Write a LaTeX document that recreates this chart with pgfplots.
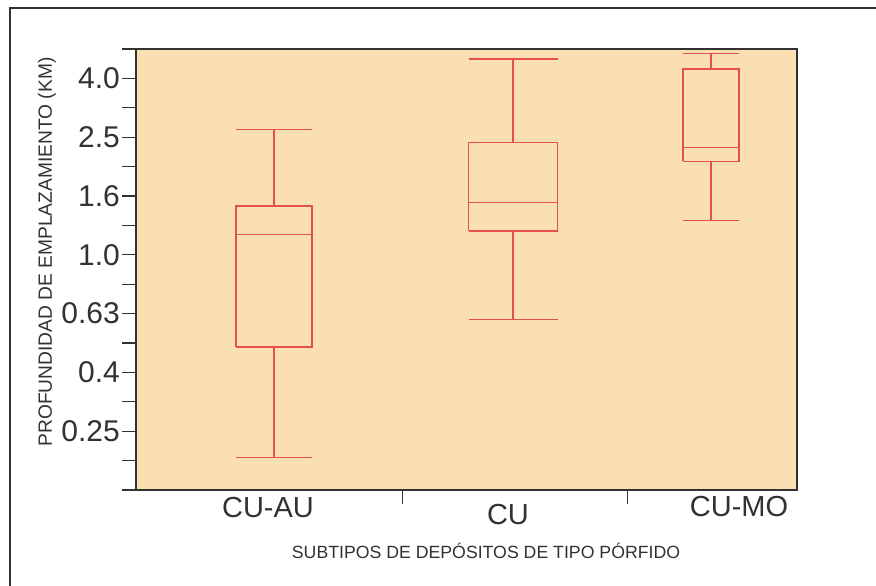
\documentclass[border=0pt]{standalone}
\usepackage{fontspec}
\setmainfont{Liberation Sans}
\usepackage{pgfplots}
\pgfplotsset{compat=1.18}
\definecolor{tanbg}{RGB}{250,224,176}
\definecolor{boxred}{RGB}{228,80,80}
\definecolor{ink}{RGB}{50,50,50}
% box: position, half width, lower whisker, Q1, median, Q3, upper whisker
\newcommand{\bx}[7]{%
  \addplot[boxred, line width=1.4pt] coordinates {(#1-#2,#4) (#1+#2,#4) (#1+#2,#6) (#1-#2,#6) (#1-#2,#4)};
  \addplot[boxred, line width=1.4pt] coordinates {(#1-#2,#5) (#1+#2,#5)};
  \addplot[boxred, line width=1.4pt] coordinates {(#1,#4) (#1,#3)};
  \addplot[boxred, line width=1.4pt] coordinates {(#1,#6) (#1,#7)};
  \addplot[boxred, line width=1.4pt] coordinates {(#1-#2,#3) (#1+#2,#3)};
  \addplot[boxred, line width=1.4pt] coordinates {(#1-#2,#7) (#1+#2,#7)};
}
\begin{document}
\begin{tikzpicture}[x=1pt,y=1pt]
\begin{axis}[at={(0,0)}, anchor=south west, scale only axis,
  width=661pt, height=441pt,
  xmin=0, xmax=661, ymode=log, ymin=0.158489, ymax=5.011872,
  axis background/.style={fill=tanbg},
  axis line style={ink, line width=1.4pt},
  xtick={266.5,491.7}, xticklabels={},
  ytick={0.158489,0.199526,0.251189,0.316228,0.398107,0.501187,0.630957,0.794328,1,1.258925,1.584893,1.995262,2.511886,3.162278,3.981072,5.011872},
  yticklabels={,,0.25,,0.4,,0.63,,1.0,,1.6,,2.5,,4.0,},
  minor tick num=0,
  xtick pos=left, ytick pos=left,
  tick align=outside, major tick length=14pt,
  tick style={ink, line width=1.3pt},
  yticklabel style={font=\fontsize{30}{32}\selectfont, text=ink, inner xsep=2pt},
  clip=false]
\bx{138}{38}{0.204}{0.486}{1.175}{1.464}{2.67}
\bx{377}{44.5}{0.603}{1.203}{1.504}{2.41}{4.63}
\bx{575}{28}{1.306}{2.08}{2.32}{4.28}{4.84}
\end{axis}
\draw[ink, line width=1.8pt] (-126,-110) -- (-126,482) -- (750,482);
\node[rotate=90, font=\fontsize{19.2}{22}\selectfont, text=ink] at (-89,238) {PROFUNDIDAD DE EMPLAZAMIENTO (KM)};
\node[font=\fontsize{29}{32}\selectfont, text=ink] at (132,-18) {CU-AU};
\node[font=\fontsize{29}{32}\selectfont, text=ink] at (372,-25) {CU};
\node[font=\fontsize{29}{32}\selectfont, text=ink] at (603,-17) {CU-MO};
\node[font=\fontsize{17.7}{20}\selectfont, text=ink] at (350,-61) {SUBTIPOS DE DEPÓSITOS DE TIPO PÓRFIDO};
\pgfresetboundingbox
\path[use as bounding box] (-136,-96) rectangle (740,490);
\end{tikzpicture}
\end{document}
